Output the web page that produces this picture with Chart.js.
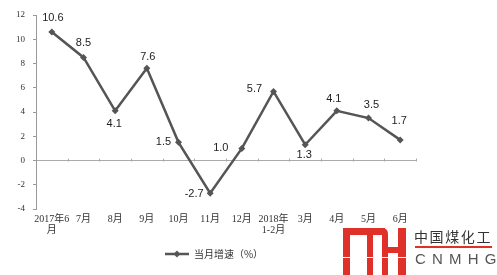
<!DOCTYPE html>
<html lang="zh">
<head>
<meta charset="utf-8">
<script src="https://cdn.jsdelivr.net/npm/chart.js@4.4.3/dist/chart.umd.min.js"></script>
<style>
  *{margin:0;padding:0;box-sizing:border-box}
  body{width:497px;height:275px;background:#fff;position:relative;overflow:hidden;font-family:"Noto Sans CJK SC",sans-serif}
  #wrap{position:absolute;left:0;top:0;width:452px;height:275px}
  .logo-cn{position:absolute;left:414px;top:228px;font-size:14px;letter-spacing:1.6px;color:#333;line-height:16px;white-space:nowrap}
  .logo-bar{position:absolute;left:415px;top:246px;width:77px;height:2px;background:#e0302a}
  .logo-en{position:absolute;left:415px;top:250px;font-family:"Liberation Sans",sans-serif;font-size:15px;letter-spacing:6.2px;color:#555;line-height:18px}
</style>
</head>
<body>
<div id="wrap"><canvas id="c" width="452" height="275"></canvas></div>
<svg style="position:absolute;left:343px;top:228px" width="64" height="47" viewBox="0 0 64 47">
  <g fill="#e0302a">
    <rect x="0" y="0" width="42" height="7"/>
    <rect x="0" y="0" width="7" height="47"/>
    <rect x="24" y="0" width="6" height="47"/>
    <path d="M36 0 H39 Q45 0 45 6 V47 H39 V7 H36 Z"/>
    <rect x="55" y="0" width="8" height="47"/>
    <rect x="39" y="19" width="24" height="6"/>
  </g>
  <rect x="0" y="29" width="64" height="1" fill="#fff"/>
</svg>
<div class="logo-cn">中国煤化工</div>
<div class="logo-bar"></div>
<div class="logo-en">CNMHG</div>
<script>
const months = [['2017年6', '月'], '7月', '8月', '9月', '10月', '11月', '12月', ['2018年', '1-2月'], '3月', '4月', '5月', '6月']
const growth = [10.6, 8.5, 4.1, 7.6, 1.5, -2.7, 1.0, 5.7, 1.3, 4.1, 3.5, 1.7]
const seriesName = '当月增速（%）'
const yTicks = [-4, -2, 0, 2, 4, 6, 8, 10, 12]

// where each value label sits relative to its point
const labelOffsets = [[1, -14], [0, -14], [-1, 13], [1, -11], [-15, 0], [-16, 1], [-21, 0], [-19, -2], [-1, 10], [-3, -12], [3, -13], [-1, -19]]

const LINE = '#555555'

const legendIcon = document.createElement('canvas')
legendIcon.width = 24
legendIcon.height = 8
;(function () {
  const g = legendIcon.getContext('2d')
  g.strokeStyle = LINE
  g.lineWidth = 2.5
  g.beginPath(); g.moveTo(0, 4); g.lineTo(24, 4); g.stroke()
  g.fillStyle = LINE
  g.beginPath(); g.moveTo(12, 0.5); g.lineTo(15.5, 4); g.lineTo(12, 7.5); g.lineTo(8.5, 4); g.closePath(); g.fill()
})()

const valueLabels = {
  id: 'valueLabels',
  afterDatasetsDraw(chart) {
    const { ctx } = chart
    const pts = chart.getDatasetMeta(0).data
    ctx.save()
    ctx.font = '11px "Liberation Sans", Arial, sans-serif'
    ctx.fillStyle = '#222'
    ctx.textAlign = 'center'
    ctx.textBaseline = 'middle'
    pts.forEach((p, i) => {
      const [dx, dy] = labelOffsets[i]
      ctx.fillText(growth[i].toFixed(1), p.x + dx, p.y + dy)
    })
    ctx.restore()
  }
}

const zeroTicks = {
  id: 'zeroTicks',
  beforeDatasetsDraw(chart) {
    const { ctx, chartArea } = chart
    const y0 = Math.round(chart.scales.y.getPixelForValue(0)) + 0.5
    const step = (chartArea.right - chartArea.left) / months.length
    ctx.save()
    ctx.strokeStyle = '#aaa'
    ctx.lineWidth = 1
    ctx.beginPath()
    for (let i = 1; i <= months.length; i++) {
      const x = Math.round(chartArea.left + i * step) + 0.5
      ctx.moveTo(x, y0)
      ctx.lineTo(x, y0 - 3)
    }
    ctx.stroke()
    ctx.restore()
  }
}

new Chart(document.getElementById('c'), {
  type: 'line',
  data: {
    labels: months,
    datasets: [{
      label: seriesName,
      data: growth,
      borderColor: LINE,
      backgroundColor: LINE,
      borderWidth: 2.5,
      tension: 0,
      pointStyle: 'rectRot',
      pointRadius: 3.5,
      pointBackgroundColor: LINE,
      pointBorderWidth: 0
    }]
  },
  options: {
    responsive: false,
    animation: false,
    devicePixelRatio: 1,
    layout: { padding: { left: 12, right: 36, top: 15, bottom: 6 } },
    plugins: {
      tooltip: { enabled: false },
      legend: {
        position: 'bottom',
        labels: {
          usePointStyle: true,
          pointStyle: legendIcon,
          pointStyleWidth: 24,
          color: '#333',
          padding: 8,
          font: { family: '"Noto Sans CJK SC", sans-serif', size: 10 }
        }
      }
    },
    scales: {
      x: {
        offset: true,
        border: { display: false },
        grid: { display: false, drawTicks: false },
        ticks: {
          color: '#333',
          padding: 5,
          maxRotation: 0,
          autoSkip: false,
          font: { family: '"Liberation Serif", "Noto Sans CJK SC", serif', size: 10, lineHeight: 1.1 }
        },
        afterFit(s) { s.height = 32 }
      },
      y: {
        min: -4,
        max: 12,
        afterBuildTicks(s) { s.ticks = yTicks.map(v => ({ value: v })) },
        border: { display: true, color: '#999', width: 1 },
        grid: {
          drawTicks: true,
          tickLength: 3,
          tickColor: '#999',
          color: c => (c.tick && c.tick.value === 0 ? '#aaa' : 'rgba(0,0,0,0)')
        },
        ticks: {
          color: '#333',
          padding: 8,
          font: { family: '"Liberation Serif", serif', size: 9 }
        },
        afterFit(s) { s.width = 24 }
      }
    }
  },
  plugins: [zeroTicks, valueLabels]
})
</script>
</body>
</html>
